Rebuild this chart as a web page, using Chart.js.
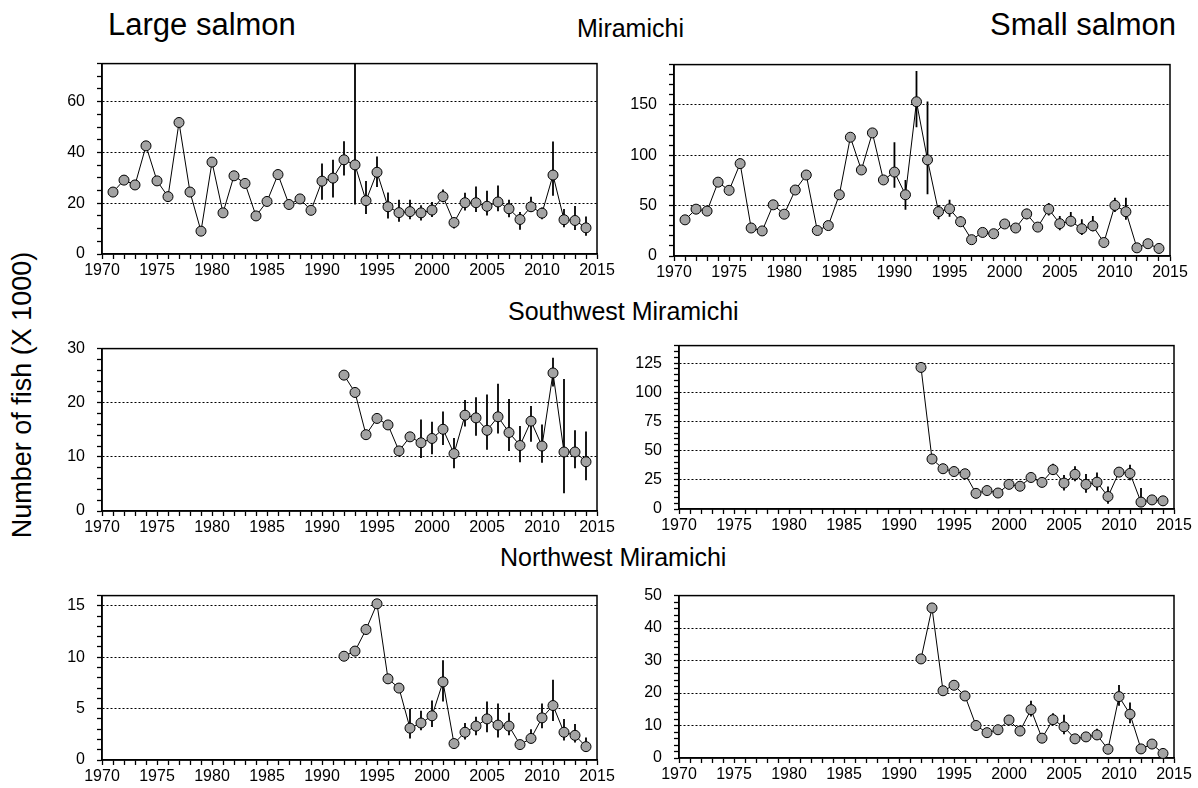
<!DOCTYPE html>
<html>
<head>
<meta charset="utf-8">
<script src="https://cdn.jsdelivr.net/npm/chart.js@4.4.1/dist/chart.umd.min.js"></script>
<style>
  body { margin: 0; background: #fff; width: 1198px; height: 788px; overflow: hidden; position: relative;
         font-family: "Liberation Sans", Arial, sans-serif; }
  canvas { position: absolute; }
  .t { position: absolute; color: #000; white-space: nowrap; line-height: 1; }
</style>
</head>
<body>
<div class="t" style="left:108px;top:9px;font-size:31px">Large salmon</div>
<div class="t" style="left:577px;top:16px;font-size:25px">Miramichi</div>
<div class="t" style="left:990px;top:9px;font-size:31px">Small salmon</div>
<div class="t" style="left:508px;top:299px;font-size:25px">Southwest Miramichi</div>
<div class="t" style="left:500px;top:545px;font-size:25px">Northwest Miramichi</div>
<div class="t" style="left:22px;top:395px;font-size:27px;transform:translate(-50%,-50%) rotate(-90deg)">Number of fish (X 1000)</div>

<canvas id="tl" width="570" height="242" style="left:47px;top:42px"></canvas>
<canvas id="tr" width="571" height="243" style="left:619px;top:43px"></canvas>
<canvas id="ml" width="570" height="214" style="left:47px;top:327px"></canvas>
<canvas id="mr" width="570" height="215" style="left:624px;top:324px"></canvas>
<canvas id="bl" width="570" height="216" style="left:47px;top:574px"></canvas>
<canvas id="br" width="570" height="214" style="left:624px;top:574px"></canvas>

<script>
// Miramichi, 1971-2014
const yearsMir = [1971, 1972, 1973, 1974, 1975, 1976, 1977, 1978, 1979, 1980, 1981, 1982, 1983, 1984, 1985,
  1986, 1987, 1988, 1989, 1990, 1991, 1992, 1993, 1994, 1995, 1996, 1997, 1998, 1999, 2000, 2001, 2002,
  2003, 2004, 2005, 2006, 2007, 2008, 2009, 2010, 2011, 2012, 2013, 2014];
// branches, 1992-2014
const yearsBr = [1992, 1993, 1994, 1995, 1996, 1997, 1998, 1999, 2000, 2001, 2002, 2003, 2004, 2005,
  2006, 2007, 2008, 2009, 2010, 2011, 2012, 2013, 2014];

const largeMir = [24.4, 29.1, 27.2, 42.6, 28.8, 22.6, 51.8, 24.4, 9.0, 36.2, 16.2, 30.8, 27.8, 15.0, 20.7,
  31.3, 19.5, 21.7, 17.2, 28.7, 29.9, 37.1, 35.1, 21.0, 32.2, 18.6, 16.3, 16.7, 16.2, 17.3, 22.6, 12.4,
  20.2, 20.2, 18.8, 20.5, 17.8, 13.6, 18.6, 16.1, 31.1, 13.5, 13.2, 10.3];
const largeMirErrYears = [1990, 1991, 1992, 1993, 1994, 1995, 1996, 1997, 1998, 1999, 2000, 2001, 2002,
  2003, 2004, 2005, 2006, 2007, 2008, 2009, 2010, 2011, 2012, 2013, 2014];
const largeMirLo = [21.4, 22.3, 30.9, 19.5, 15.8, 26.4, 14.0, 12.7, 13.7, 13.2, 14.6, 20.4, 10.0, 17.1,
  16.5, 15.2, 16.8, 14.5, 9.6, 16.5, 13.7, 22.9, 10.5, 9.5, 7.2];
const largeMirHi = [35.6, 37.1, 44.4, 90, 28.8, 38.4, 24.2, 21.4, 21.4, 19.2, 20.5, 25.4, 14.0, 24.1,
  26.6, 24.9, 27.0, 21.4, 16.5, 22.6, 18.3, 44.3, 17.7, 18.9, 14.8];

const smallMir = [35.9, 46.5, 44.6, 73.3, 65.2, 91.7, 27.8, 24.9, 50.8, 41.5, 65.5, 80.4, 25.3, 30.2, 60.8,
  117.9, 85.4, 122.2, 75.5, 83.3, 60.8, 153.1, 95.4, 44.0, 46.8, 34.0, 16.2, 23.4, 22.1, 31.8, 27.8, 41.8,
  28.7, 46.5, 32.1, 34.6, 27.1, 29.9, 13.4, 50.2, 44.0, 8.1, 12.2, 7.5];
const smallMirErrYears = [1990, 1991, 1992, 1993, 1994, 1995, 1996, 2002, 2004, 2005, 2006, 2007, 2008, 2010, 2011];
const smallMirLo = [67.7, 45.8, 127.8, 61.4, 36.5, 39.0, 29.6, 36.5, 40.2, 25.6, 29.6, 20.9, 24.6, 43.7, 35.9];
const smallMirHi = [112.9, 75.5, 183.7, 153.4, 50.5, 55.8, 39.6, 46.8, 52.7, 39.6, 43.7, 36.5, 39.6, 57.7, 57.7];

const largeSW = [25.1, 21.9, 14.1, 17.1, 15.9, 11.1, 13.7, 12.6, 13.4, 15.1, 10.6, 17.7, 17.2, 14.9, 17.4,
  14.5, 12.1, 16.6, 12.0, 25.5, 10.9, 10.9, 9.1];
const largeSWErrYears = [1999, 2000, 2001, 2002, 2003, 2004, 2005, 2006, 2007, 2008, 2009, 2010, 2011, 2012, 2013, 2014];
const largeSWLo = [9.8, 10.5, 12.2, 7.9, 15.6, 13.9, 11.3, 14.3, 11.1, 9.0, 12.8, 8.9, 23.0, 3.3, 7.9, 5.7];
const largeSWHi = [16.9, 16.5, 18.4, 13.5, 20.5, 21.0, 21.5, 23.5, 20.7, 15.7, 19.4, 16.0, 28.3, 24.4, 14.9, 14.7];

const smallSW = [121.3, 42.8, 34.5, 32.1, 30.2, 13.4, 15.8, 13.7, 21.1, 19.5, 27.0, 22.8, 33.7, 22.2, 29.7,
  21.1, 23.0, 10.7, 31.6, 30.5, 5.9, 7.8, 7.0];
const smallSWErrYears = [2004, 2005, 2006, 2007, 2008, 2009, 2011, 2012, 2014];
const smallSWLo = [29.2, 15.8, 23.8, 13.9, 15.8, 4.6, 24.6, 1.9, 3.2];
const smallSWHi = [38.8, 29.2, 36.7, 30.0, 31.3, 19.3, 38.0, 17.9, 11.2];

const largeNW = [10.1, 10.6, 12.7, 15.2, 7.9, 7.0, 3.1, 3.6, 4.3, 7.6, 1.6, 2.7, 3.3, 4.0, 3.4, 3.3, 1.5,
  2.1, 4.1, 5.3, 2.7, 2.4, 1.3];
const largeNWErrYears = [1998, 1999, 2000, 2001, 2003, 2004, 2005, 2006, 2007, 2008, 2009, 2010, 2011, 2012, 2013, 2014];
const largeNWLo = [2.1, 2.9, 3.2, 5.7, 2.0, 2.4, 2.7, 2.2, 2.4, 1.1, 1.8, 3.1, 3.8, 1.9, 1.7, 0.8];
const largeNWHi = [5.0, 4.8, 5.8, 9.7, 3.6, 4.2, 5.7, 5.5, 4.6, 1.8, 3.0, 5.5, 7.8, 4.0, 3.5, 2.2];

const smallNW = [30.5, 46.2, 20.7, 22.4, 19.1, 10.0, 7.8, 8.7, 11.7, 8.3, 14.9, 6.1, 11.8, 9.6, 5.9, 6.5,
  7.1, 2.7, 18.9, 13.5, 2.8, 4.3, 1.4];
const smallNWErrYears = [2002, 2004, 2005, 2008, 2010, 2011];
const smallNWLo = [12.8, 10.4, 7.3, 5.6, 16.1, 10.7];
const smallNWHi = [17.6, 13.8, 13.3, 9.0, 22.5, 17.1];

const font = { family: '"Liberation Sans", Arial, sans-serif', size: 16 };

// frame around the plot area + vertical error bars behind the points
const errorBars = {
  id: 'errorBars',
  beforeDatasetsDraw(chart) {
    const { ctx, chartArea: a, scales: { x, y } } = chart;
    const ds = chart.data.datasets[0];
    ctx.save();
    ctx.strokeStyle = '#000';
    ctx.lineWidth = 1.5;
    ctx.strokeRect(a.left, a.top, a.width, a.height);
    ctx.beginPath();
    ctx.rect(a.left, a.top, a.width, a.height);
    ctx.clip();
    ctx.lineWidth = 1.8;
    ds.errYears.forEach((yr, i) => {
      const px = x.getPixelForValue(yr);
      ctx.beginPath();
      ctx.moveTo(px, y.getPixelForValue(ds.errLo[i]));
      ctx.lineTo(px, y.getPixelForValue(ds.errHi[i]));
      ctx.stroke();
    });
    ctx.restore();
  }
};

function panel(id, years, values, errYears, errLo, errHi, yMax, yMinor, yMajor) {
  new Chart(document.getElementById(id), {
    type: 'line',
    data: {
      datasets: [{
        data: years.map((yr, i) => ({ x: yr, y: values[i] })),
        errYears, errLo, errHi,
        borderColor: '#000',
        borderWidth: 1,
        tension: 0,
        pointRadius: 5,
        pointBackgroundColor: '#a3a3a3',
        pointBorderColor: '#000',
        pointBorderWidth: 1
      }]
    },
    options: {
      responsive: false,
      animation: false,
      devicePixelRatio: 1,
      layout: { padding: { left: 5, right: 20, top: 10, bottom: 0 } },
      plugins: { legend: { display: false }, tooltip: { enabled: false } },
      scales: {
        x: {
          type: 'linear',
          min: 1970,
          max: 2015,
          afterFit: (s) => { s.height = 30; },
          ticks: {
            stepSize: 1,
            autoSkip: false,
            maxRotation: 0,
            padding: 2,
            color: '#000',
            font,
            callback: (v) => (v % 5 === 0 ? String(v) : '')
          },
          grid: { drawOnChartArea: false, tickLength: 5, tickColor: '#000', tickWidth: 1.3 },
          border: { color: '#000', width: 1.5 }
        },
        y: {
          min: 0,
          max: yMax,
          afterFit: (s) => { s.width = 50; },
          ticks: {
            stepSize: yMinor,
            autoSkip: false,
            padding: 12,
            color: '#000',
            font,
            callback: (v) => (v % yMajor === 0 ? String(v) : '')
          },
          grid: {
            color: (c) => {
              const v = c.tick ? c.tick.value : 0;
              return v > 0 && v < yMax && v % yMajor === 0 ? '#000' : 'rgba(0,0,0,0)';
            },
            lineWidth: 1,
            tickLength: 5,
            tickColor: '#000',
            tickWidth: 1.3
          },
          border: { color: '#000', width: 1.5, dash: [2, 2] }
        }
      }
    },
    plugins: [errorBars]
  });
}

panel('tl', yearsMir, largeMir, largeMirErrYears, largeMirLo, largeMirHi, 75, 5, 20);
panel('tr', yearsMir, smallMir, smallMirErrYears, smallMirLo, smallMirHi, 190, 10, 50);
panel('ml', yearsBr, largeSW, largeSWErrYears, largeSWLo, largeSWHi, 30, 2, 10);
panel('mr', yearsBr, smallSW, smallSWErrYears, smallSWLo, smallSWHi, 140, 5, 25);
panel('bl', yearsBr, largeNW, largeNWErrYears, largeNWLo, largeNWHi, 16, 1, 5);
panel('br', yearsBr, smallNW, smallNWErrYears, smallNWLo, smallNWHi, 50, 2, 10);
</script>
</body>
</html>
